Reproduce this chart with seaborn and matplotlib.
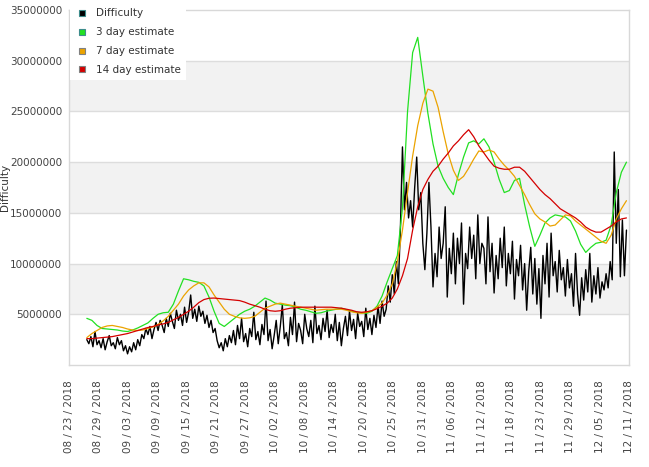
import matplotlib
matplotlib.use("Agg")
import matplotlib.pyplot as plt
from matplotlib.lines import Line2D
import numpy as np
import pandas as pd
import seaborn as sns

# x axis: days since 08/23/2018, values in millions
tick_labels = ["08 / 23 / 2018", "08 / 29 / 2018", "09 / 03 / 2018", "09 / 09 / 2018",
               "09 / 15 / 2018", "09 / 21 / 2018", "09 / 27 / 2018", "10 / 02 / 2018",
               "10 / 08 / 2018", "10 / 14 / 2018", "10 / 20 / 2018", "10 / 25 / 2018",
               "10 / 31 / 2018", "11 / 06 / 2018", "11 / 12 / 2018", "11 / 18 / 2018",
               "11 / 23 / 2018", "11 / 29 / 2018", "12 / 05 / 2018", "12 / 11 / 2018"]
first_day = 3.5
last_day = 109.5

difficulty = [
    2.5, 2.1, 2.8, 1.8, 3.3, 2.0, 2.4,
    1.7, 2.6, 1.5, 2.3, 2.9, 1.9, 2.2, 1.6, 2.7, 2.0,
    2.4, 1.4, 1.9, 1.1, 1.8, 1.3, 2.2, 1.5, 2.5, 1.9,
    3.0, 2.6, 3.6, 3.0, 3.8, 2.6, 3.5,
    4.2, 3.4, 4.4, 3.9, 3.2, 4.6, 3.8, 5.1, 4.3,
    3.6, 5.4, 4.4, 5.0, 3.9, 5.7, 4.2, 5.2, 6.9, 4.6, 5.5,
    4.3, 5.8, 4.8, 5.3, 4.1, 4.9,
    3.7, 4.4, 3.2, 3.6, 2.4,
    1.7, 2.2, 1.4, 2.6, 1.8, 2.9,
    2.2, 3.4, 2.0, 3.9, 2.6, 4.6, 2.3, 3.1, 1.8, 3.6,
    2.8, 5.2, 2.5, 3.3, 2.0, 4.0, 3.0, 6.3, 2.4, 3.5,
    1.6, 2.9, 4.4, 2.1, 3.8, 5.9, 2.6, 3.2, 1.9, 4.7,
    3.0, 6.2, 2.3, 4.1, 3.4, 2.1, 5.0, 3.6, 2.8, 4.4,
    2.2, 5.8, 3.1, 3.9, 2.5, 4.6, 3.3, 5.4, 2.7, 4.0,
    3.2, 5.0, 2.4, 4.2, 1.9, 3.6, 4.8, 2.9, 5.3, 3.4,
    4.5, 2.6, 5.1, 3.8, 4.3, 2.8, 5.6, 3.5, 4.6, 3.0,
    4.9, 3.7, 5.8, 4.1, 6.3, 4.8,
    5.5, 7.8, 6.2, 8.9, 7.0, 10.2, 8.0, 13.5,
    21.5, 15.3, 18.0, 14.5, 16.2, 13.6, 17.5, 20.5, 15.3, 17.0,
    12.0, 9.4, 13.0, 18.0, 13.6, 7.7, 11.0, 8.7, 13.6, 10.5,
    12.0, 15.6, 6.7, 11.5, 9.0, 13.0, 8.0, 12.5, 10.0, 14.0,
    6.0, 11.0, 9.5, 13.6, 10.5, 12.8, 8.5, 14.8, 10.0, 12.0,
    11.5, 8.0, 14.6, 9.2, 12.0, 7.1, 10.8, 8.5, 12.5, 9.6,
    13.6, 7.8, 11.0, 9.0, 12.2, 6.5, 10.4, 8.8, 11.8, 7.4,
    10.0, 5.4, 9.2, 11.6, 7.0, 10.5, 6.0, 9.5, 4.6, 10.8,
    8.0, 12.0, 6.7, 13.0, 8.8, 10.2, 7.2, 11.3, 8.4, 9.6,
    6.8, 10.4, 7.6, 9.0, 5.8, 11.0, 7.0, 4.9, 8.6, 6.4,
    9.4, 7.2, 11.0, 6.2, 8.8, 7.0, 9.6, 6.6, 8.2, 7.4,
    9.0, 7.6, 10.2, 8.4, 21.0, 12.0, 17.3, 8.7, 14.3, 8.8, 13.3,
]

est_3day = [
    4.6, 4.4, 3.9, 3.6, 3.55, 3.5, 3.45, 3.35, 3.3, 3.45,
    3.65, 3.9, 4.15, 4.6, 5.0, 5.15, 5.2, 6.0, 7.3, 8.5,
    8.4, 8.25, 8.15, 7.8, 6.7, 5.3, 4.1, 3.8, 4.2, 4.6,
    5.0, 5.3, 5.5, 5.8, 6.2, 6.6, 6.4, 6.1, 6.0, 5.9,
    5.85, 5.7, 5.5, 5.4, 5.25, 5.1, 5.15, 5.3, 5.4, 5.5,
    5.6, 5.45, 5.3, 5.2, 5.15, 5.1, 5.3, 5.8, 6.8, 8.2,
    9.5, 10.8, 15.5, 25.0, 30.8, 32.3, 28.5, 24.8, 21.8, 19.6,
    18.4, 17.5, 16.8, 18.8, 20.5, 21.9, 22.1, 21.8, 22.3, 21.5,
    20.0, 18.3, 17.0, 17.2, 18.2, 18.4, 15.8, 13.6, 11.7, 12.8,
    14.0, 14.5, 14.8, 14.7, 14.6, 14.2, 13.2, 11.9, 11.1, 11.6,
    12.0, 12.1, 12.3, 13.8, 17.0, 19.0, 20.0,
]

est_7day = [
    2.7, 3.1, 3.4, 3.7, 3.85, 3.9, 3.8, 3.7, 3.55, 3.45,
    3.4, 3.45, 3.6, 3.75, 4.0, 4.35, 4.8, 5.4, 6.0, 6.8,
    7.4, 7.8, 8.1, 8.1, 7.7, 6.9, 6.2, 5.5, 5.0, 4.8,
    4.65, 4.6, 4.65, 4.8, 5.2, 5.6, 5.8, 6.0, 6.1, 6.0,
    5.9, 5.8, 5.7, 5.6, 5.5, 5.4, 5.45, 5.5, 5.5, 5.5,
    5.5, 5.4, 5.25, 5.15, 5.1, 5.2, 5.35, 5.7, 6.1, 6.9,
    8.0, 10.2, 13.3, 17.0, 20.6, 23.6, 25.8, 27.2, 27.0, 25.4,
    23.0, 20.8, 19.2, 18.2, 18.6, 19.4, 20.3, 21.1, 21.0, 21.2,
    21.0, 20.3, 19.7, 19.2, 18.6, 17.7, 16.8, 15.8, 14.9, 14.4,
    14.1, 13.7, 13.8, 14.3, 14.8, 14.7, 14.2, 13.8, 13.4, 13.0,
    12.6, 12.2, 12.0, 12.8, 14.4, 15.4, 16.2,
]

est_14day = [
    2.6, 2.6, 2.65, 2.7, 2.75, 2.8, 2.9, 3.0, 3.1, 3.25,
    3.4, 3.55, 3.7, 3.8, 3.95, 4.05, 4.2, 4.45, 4.7, 5.0,
    5.3, 5.7, 6.15, 6.45, 6.58, 6.6, 6.55, 6.5, 6.45, 6.4,
    6.35, 6.2, 6.0, 5.85, 5.7, 5.5, 5.35, 5.3, 5.35, 5.5,
    5.6, 5.65, 5.7, 5.7, 5.7, 5.7, 5.7, 5.7, 5.7, 5.65,
    5.6, 5.5, 5.4, 5.25, 5.2, 5.25, 5.35, 5.55, 5.8, 6.1,
    6.6, 7.5, 8.8, 10.5, 13.3, 15.6, 17.3, 18.3, 19.1, 19.6,
    20.3, 20.9, 21.6, 22.1, 22.7, 23.2, 22.5, 21.6, 20.9, 20.2,
    19.6, 19.4, 19.3, 19.3, 19.5, 19.5, 19.1, 18.5, 17.9, 17.3,
    16.8, 16.4, 15.9, 15.4, 15.1, 14.8, 14.5, 14.1, 13.6, 13.3,
    13.1, 13.1, 13.4, 13.7, 14.1, 14.4, 14.5,
]

series = [
    ("Difficulty", difficulty, "#000000", "#3d8c8c"),
    ("3 day estimate", est_3day, "#22e022", "#3d8c8c"),
    ("7 day estimate", est_7day, "#eba300", "#808080"),
    ("14 day estimate", est_14day, "#d40000", "#808080"),
]

sns.set_style("white")
plt.rcParams["font.family"] = ["DejaVu Sans"]

fig = plt.figure(figsize=(6.49, 4.67), dpi=100)
ax = fig.add_axes([69 / 649, 102 / 467, 560 / 649, 355 / 467])

# alternating bands
for lo in (5e6, 15e6, 25e6):
    ax.axhspan(lo, lo + 5e6, color="#f2f2f2", zorder=0, lw=0)
for yv in np.arange(5e6, 35e6, 5e6):
    ax.axhline(yv, color="#dddddd", lw=1, zorder=0.5)

for name, vals, col, _ in series:
    df = pd.DataFrame({"day": np.linspace(first_day, last_day, len(vals)),
                       "value": np.array(vals) * 1e6})
    sns.lineplot(data=df, x="day", y="value", ax=ax, color=col,
                 lw=1.0 if name == "Difficulty" else 0.9,
                 estimator=None, zorder=3 if name == "Difficulty" else 4)

ax.set_xlim(0, 110)
ax.set_ylim(0, 35e6)
ax.set_xticks(np.linspace(0, 110, len(tick_labels)))
ax.set_xticklabels(tick_labels, rotation=90, fontsize=7.5, color="#444444")
ax.set_yticks(np.arange(5e6, 35e6 + 1, 5e6))
ax.set_yticklabels([f"{int(v)}" for v in np.arange(5e6, 35e6 + 1, 5e6)],
                   fontsize=7.5, color="#444444")
ax.tick_params(axis="x", length=0, pad=11)
ax.tick_params(axis="y", length=0, pad=5)
ax.set_xlabel("")
ax.set_ylabel("Difficulty", fontsize=7.5, color="#333333")
ax.yaxis.set_label_coords(-0.105, 0.5)
for sp in ax.spines.values():
    sp.set_color("#d8d8d8")
    sp.set_linewidth(1)

handles = [Line2D([], [], marker="s", linestyle="none", markersize=4.2,
                  markerfacecolor=c, markeredgecolor=ec, markeredgewidth=0.8)
           for _, _, c, ec in series]
leg = ax.legend(handles, [s[0] for s in series], loc="upper left",
                bbox_to_anchor=(0.0, 1.022), fontsize=7.5, frameon=True,
                facecolor="white", edgecolor="none", framealpha=1,
                fancybox=False, handlelength=1.3, handletextpad=0.7,
                labelspacing=0.85, borderpad=0.5, borderaxespad=0.1)
for t in leg.get_texts():
    t.set_color("#333333")
leg.set_zorder(10)

fig.savefig("out.png", dpi=100)
